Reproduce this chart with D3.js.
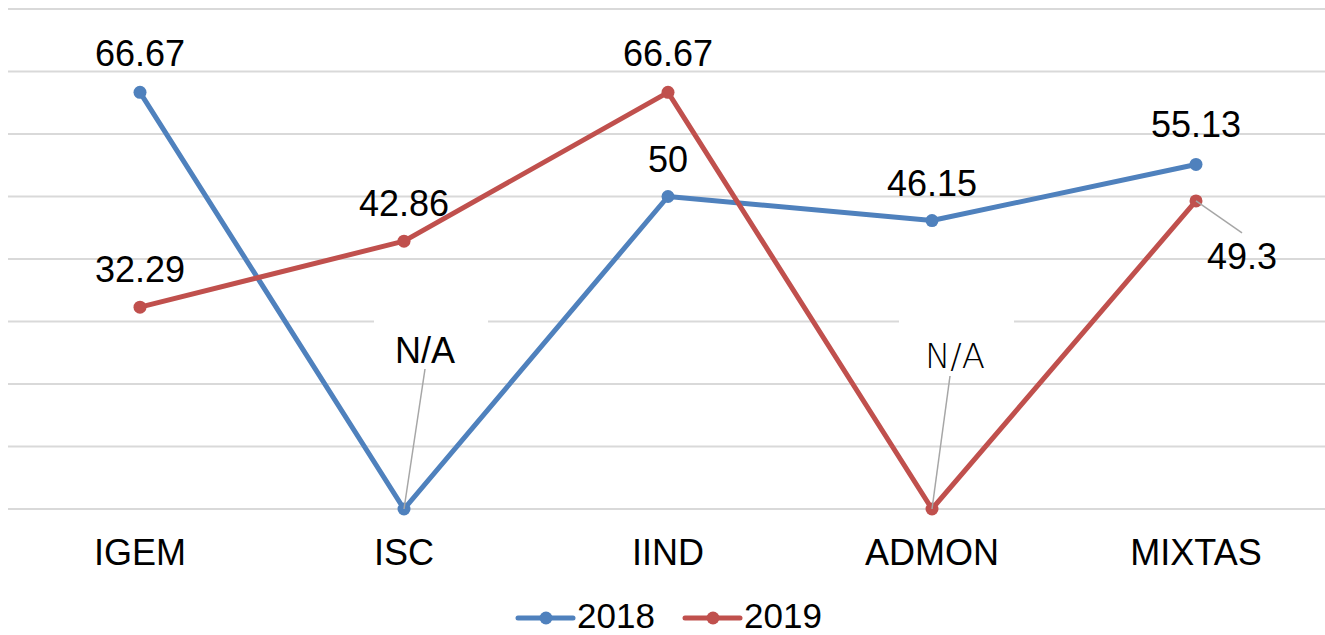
<!DOCTYPE html>
<html>
<head>
<meta charset="utf-8">
<script src="https://cdn.jsdelivr.net/npm/d3@7"></script>
<style>
  body { margin: 0; background: #fff; }
  text { font-family: "Liberation Sans", Arial, sans-serif; fill: #000; }
</style>
</head>
<body>
<div id="chart"></div>
<script>
// chart data
var categories = ["IGEM", "ISC", "IIND", "ADMON", "MIXTAS"];
var values2018 = [66.67, 0, 50, 46.15, 55.13];
var values2019 = [32.29, 42.86, 66.67, 0, 49.3];
var labels2018 = ["66.67", "N/A", "50", "46.15", "55.13"];
var labels2019 = ["32.29", "42.86", "66.67", "N/A", "49.3"];
var yTicks = [0, 10, 20, 30, 40, 50, 60, 70, 80];

var W = 1325, H = 635;
var svg = d3.select("#chart").append("svg")
  .attr("width", W).attr("height", H);

var x = d3.scaleBand().domain(categories).range([8, 1328]);
var y = d3.scaleLinear().domain([0, 80]).range([509, 9]);
function cx(c) { return x(c) + x.bandwidth() / 2; }

// gridlines
svg.append("g").selectAll("line").data(yTicks).enter().append("line")
  .attr("x1", 8).attr("x2", W)
  .attr("y1", function(d) { return y(d); })
  .attr("y2", function(d) { return y(d); })
  .attr("stroke", "#d9d9d9").attr("stroke-width", 2);

// category labels
svg.append("g").selectAll("text").data(categories).enter().append("text")
  .attr("x", cx).attr("y", 565)
  .attr("text-anchor", "middle").attr("font-size", 36)
  .text(function(d) { return d; });

var series = [
  { name: "2018", vals: values2018, labels: labels2018, color: "#4F81BD" },
  { name: "2019", vals: values2019, labels: labels2019, color: "#C0504D" }
];

// data labels: offsets from the point (dx, dy of baseline), and optional leader line
var labelLayout = {
  "2018": [
    { dx: 0, dy: -26 }, { dx: 21, dy: -146, box: [-30, 84], lead: [21, -140] },
    { dx: 0, dy: -25 }, { dx: 0, dy: -25 }, { dx: 0, dy: -27 }
  ],
  "2019": [
    { dx: 0, dy: -25 }, { dx: 0, dy: -25 }, { dx: 0, dy: -26 },
    { dx: 23, dy: -141, box: [-33, 82], lead: [18, -133], gothic: true },
    { dx: 46, dy: 68, lead: [46, 32] }
  ]
};

// white label backgrounds that hide the gridline behind N/A
series.forEach(function(s) {
  s.labels.forEach(function(t, i) {
    var L = labelLayout[s.name][i];
    if (!L.box) return;
    var px = cx(categories[i]), py = y(s.vals[i]);
    svg.append("rect")
      .attr("x", px + L.box[0]).attr("width", L.box[1] - L.box[0])
      .attr("y", py + L.dy - 56).attr("height", 64)
      .attr("fill", "#fff");
  });
});

var line = d3.line()
  .x(function(d) { return cx(d.c); })
  .y(function(d) { return y(d.v); });

series.forEach(function(s) {
  var pts = categories.map(function(c, i) { return { c: c, v: s.vals[i] }; });
  svg.append("path").datum(pts)
    .attr("d", line).attr("fill", "none")
    .attr("stroke", s.color).attr("stroke-width", 5)
    .attr("stroke-linejoin", "round").attr("stroke-linecap", "round");
  svg.append("g").selectAll("circle").data(pts).enter().append("circle")
    .attr("cx", function(d) { return cx(d.c); })
    .attr("cy", function(d) { return y(d.v); })
    .attr("r", 6.5).attr("fill", s.color);
});

series.forEach(function(s) {
  s.labels.forEach(function(t, i) {
    var px = cx(categories[i]), py = y(s.vals[i]);
    var L = labelLayout[s.name][i];
    if (L.lead) {
      svg.append("line")
        .attr("x1", px).attr("y1", py)
        .attr("x2", px + L.lead[0]).attr("y2", py + L.lead[1])
        .attr("stroke", "#a6a6a6").attr("stroke-width", 1.5);
    }
    svg.append("text")
      .attr("x", px + L.dx).attr("y", py + L.dy)
      .attr("text-anchor", "middle")
      .style("font-family", L.gothic ? "'DejaVu Sans', sans-serif" : null)
      .style("font-weight", L.gothic ? 300 : null)
      .attr("font-size", L.gothic ? 34 : 36)
      .text(t);
  });
});

// legend
var legend = svg.append("g");
var legendItems = [
  { name: "2018", color: "#4F81BD", x: 518 },
  { name: "2019", color: "#C0504D", x: 685 }
];
legendItems.forEach(function(d) {
  legend.append("line")
    .attr("x1", d.x).attr("x2", d.x + 55)
    .attr("y1", 618).attr("y2", 618)
    .attr("stroke", d.color).attr("stroke-width", 5).attr("stroke-linecap", "round");
  legend.append("circle")
    .attr("cx", d.x + 28).attr("cy", 618).attr("r", 6.5).attr("fill", d.color);
  legend.append("text")
    .attr("x", d.x + 59).attr("y", 628)
    .attr("font-size", 35)
    .text(d.name);
});
</script>
</body>
</html>
